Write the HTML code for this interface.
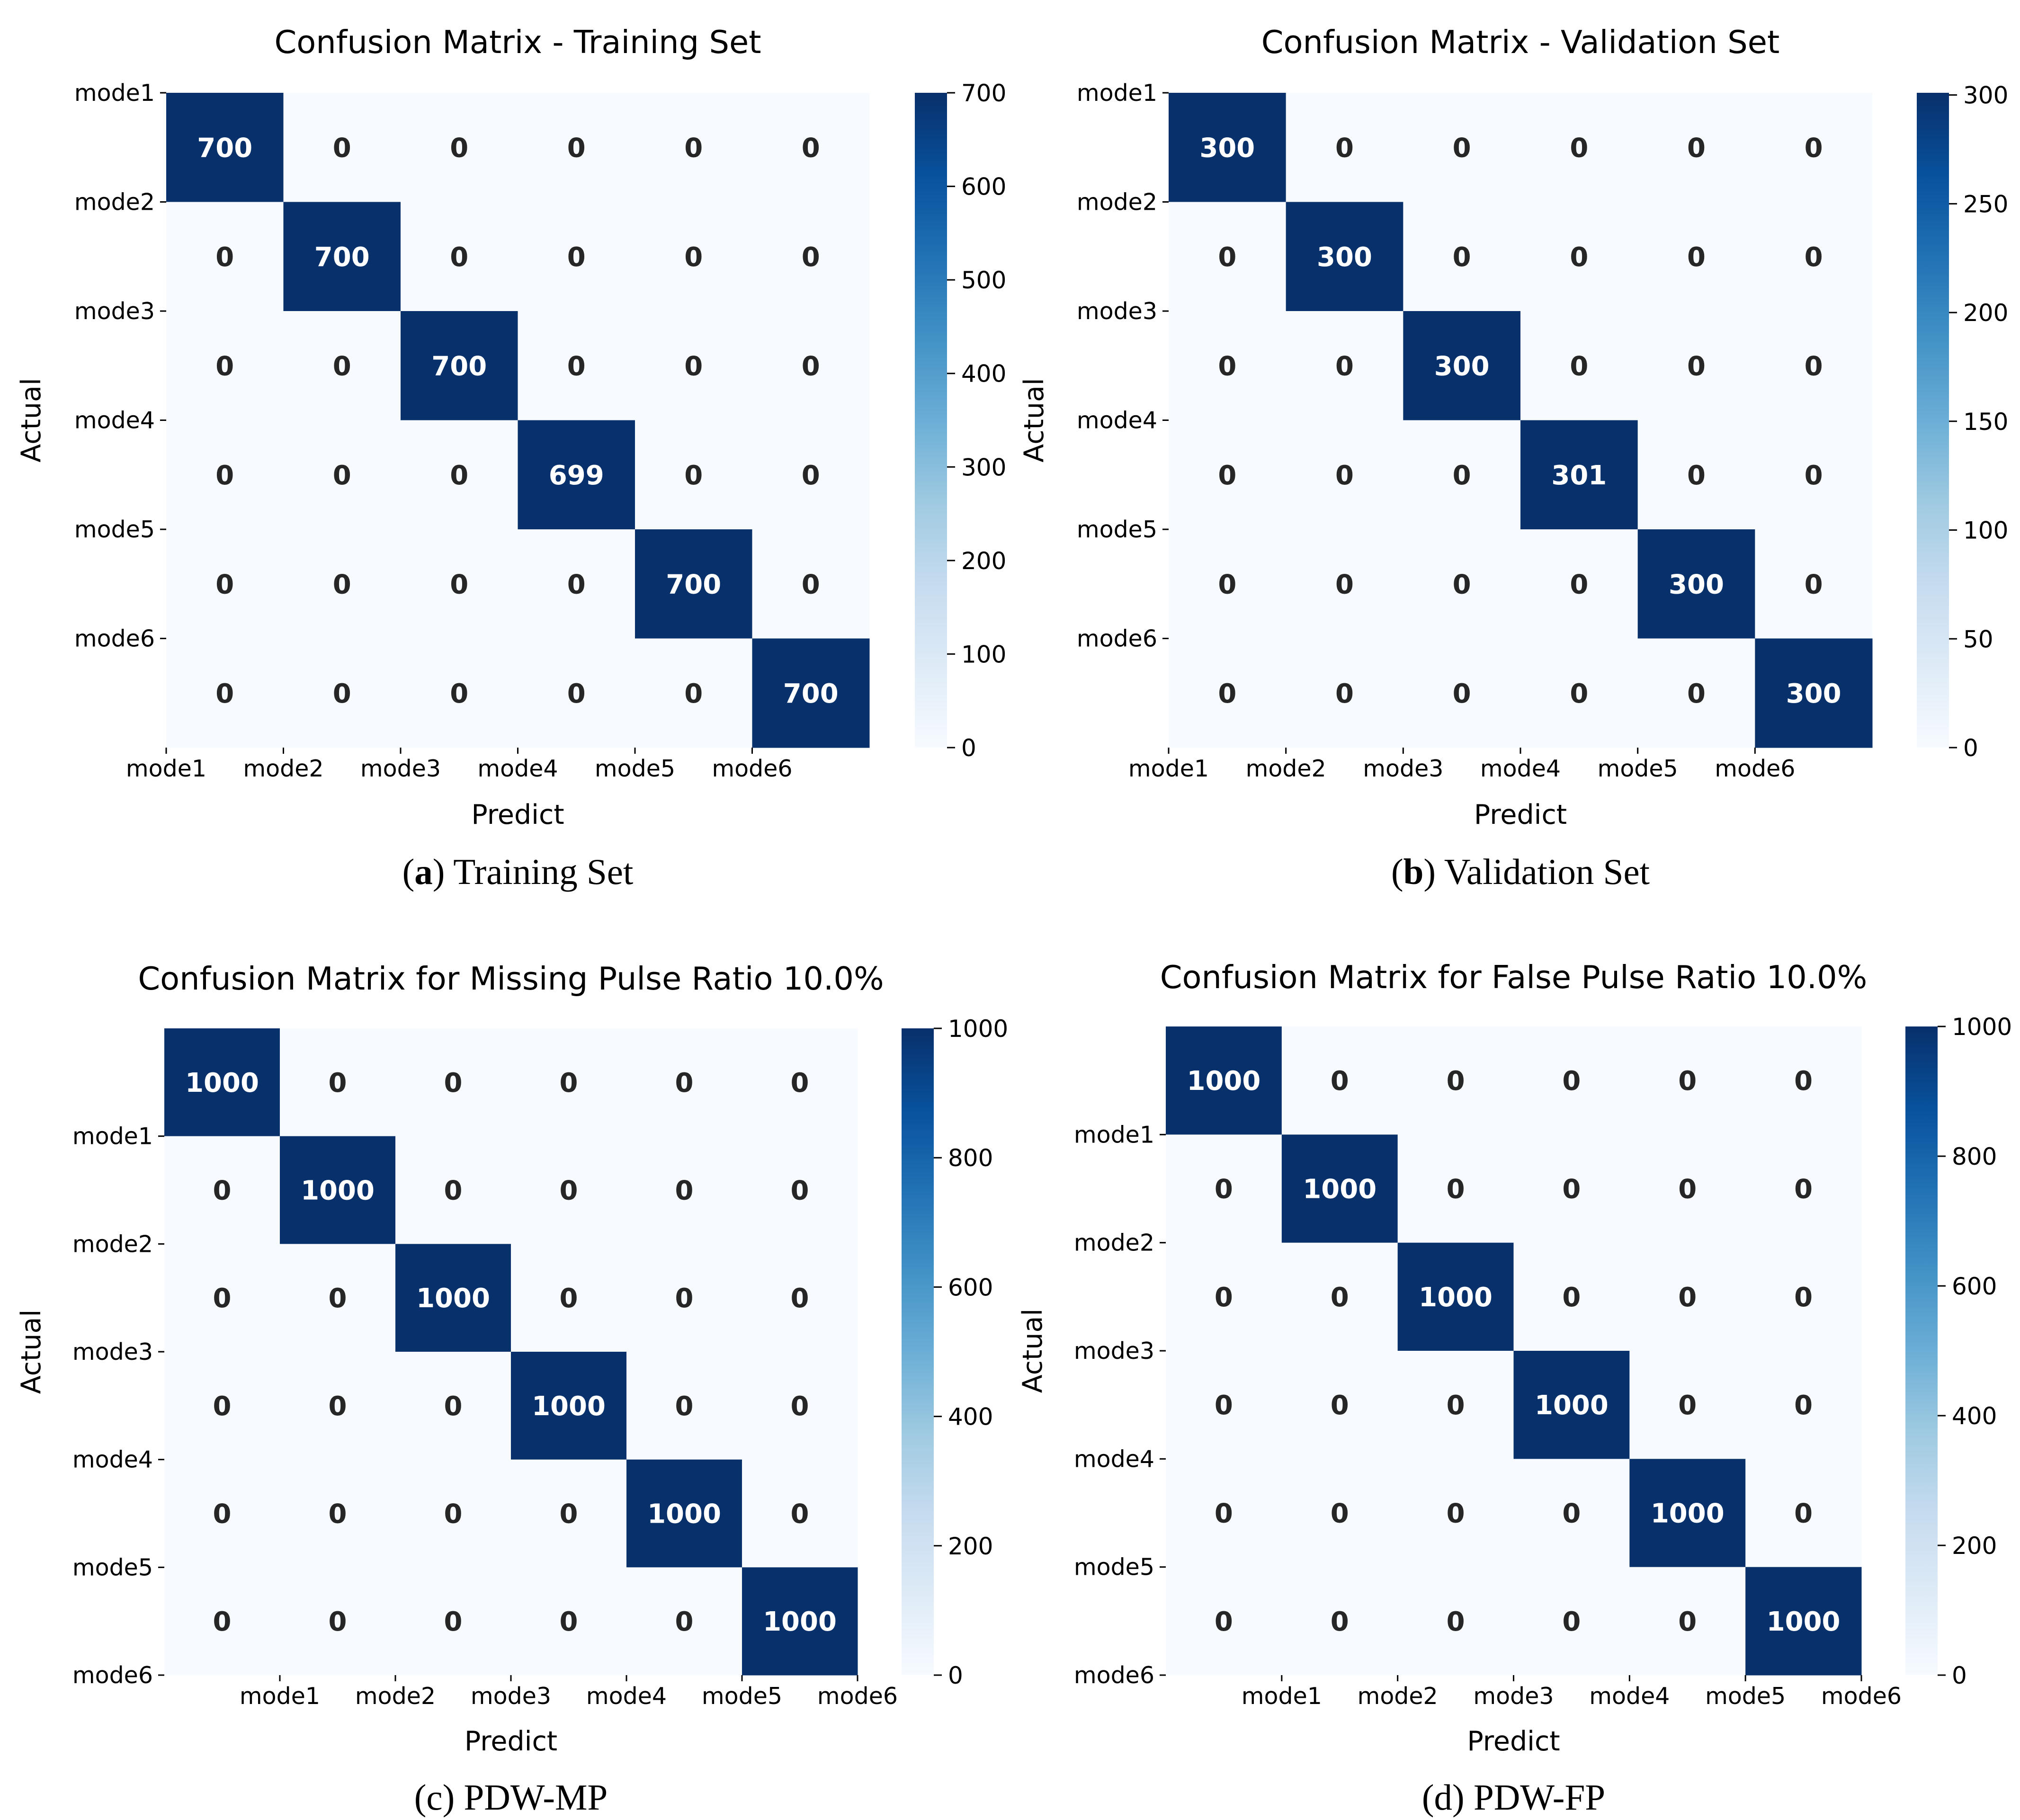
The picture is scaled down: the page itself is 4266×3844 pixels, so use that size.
<!DOCTYPE html>
<html><head><meta charset="utf-8"><style>
html,body{margin:0;padding:0;background:#fff;}
svg{display:block;}
</style></head><body>
<svg id="fig" width="4266" height="3844" xmlns="http://www.w3.org/2000/svg">
<defs>
<linearGradient id="blues" x1="0" y1="1" x2="0" y2="0">
<stop offset="0" stop-color="#f7fbff"/><stop offset="0.125" stop-color="#deebf7"/><stop offset="0.25" stop-color="#c6dbef"/><stop offset="0.375" stop-color="#9ecae1"/><stop offset="0.5" stop-color="#6baed6"/><stop offset="0.625" stop-color="#4292c6"/><stop offset="0.75" stop-color="#2171b5"/><stop offset="0.875" stop-color="#08519c"/><stop offset="1" stop-color="#08306b"/>
</linearGradient>
</defs>
</svg>
<script>
const labels = ["mode1","mode2","mode3","mode4","mode5","mode6"];
const trainValues = [[700,0,0,0,0,0],[0,700,0,0,0,0],[0,0,700,0,0,0],[0,0,0,699,0,0],[0,0,0,0,700,0],[0,0,0,0,0,700]];
const valValues = [[300,0,0,0,0,0],[0,300,0,0,0,0],[0,0,300,0,0,0],[0,0,0,301,0,0],[0,0,0,0,300,0],[0,0,0,0,0,300]];
const mpValues = [[1000,0,0,0,0,0],[0,1000,0,0,0,0],[0,0,1000,0,0,0],[0,0,0,1000,0,0],[0,0,0,0,1000,0],[0,0,0,0,0,1000]];
const fpValues = [[1000,0,0,0,0,0],[0,1000,0,0,0,0],[0,0,1000,0,0,0],[0,0,0,1000,0,0],[0,0,0,0,1000,0],[0,0,0,0,0,1000]];
const trainTicks = [0,100,200,300,400,500,600,700];
const valTicks = [0,50,100,150,200,250,300];
const mpTicks = [0,200,400,600,800,1000];
const fpTicks = [0,200,400,600,800,1000];
const titles = ["Confusion Matrix - Training Set","Confusion Matrix - Validation Set","Confusion Matrix for Missing Pulse Ratio 10.0%","Confusion Matrix for False Pulse Ratio 10.0%"];
const captionsB = ["a","b","c","d"];
const captionsT = [" Training Set"," Validation Set"," PDW-MP"," PDW-FP"];

const NS="http://www.w3.org/2000/svg";
const svg=document.getElementById('fig');
function mk(tag,attrs,parent){const e=document.createElementNS(NS,tag);for(const k in attrs)e.setAttribute(k,attrs[k]);(parent||svg).appendChild(e);return e;}
const stops=["#f7fbff","#deebf7","#c6dbef","#9ecae1","#6baed6","#4292c6","#2171b5","#08519c","#08306b"];
function hex(h){return [1,3,5].map(i=>parseInt(h.substr(i,2),16));}
function cmap(t){t=Math.max(0,Math.min(1,t));const p=t*8;const i=Math.min(7,Math.floor(p));const f=p-i;const a=hex(stops[i]),b=hex(stops[i+1]);return "rgb("+a.map((v,k)=>Math.round(v+(b[k]-v)*f)).join(",")+")";}
const FONT='"DejaVu Sans","Liberation Sans",sans-serif';

function panel(idx,vals,ticks,L,T,R,B,cbL,cbR,tickMode,titleY,predY,capY,actX){
  const g=mk('g',{});
  
  
  let vmin=Infinity,vmax=-Infinity;vals.forEach(r=>r.forEach(v=>{vmin=Math.min(vmin,v);vmax=Math.max(vmax,v);}));
  const n=labels.length,cw=(R-L)/n,ch=(B-T)/n;
  const xs=c=>L+c*cw, ys=r=>T+r*ch;
  for(let r=0;r<n;r++)for(let c=0;c<n;c++){
    const v=vals[r][c];const t=(v-vmin)/(vmax-vmin);
    const rc=mk('rect',{x:xs(c),y:ys(r),width:cw+0.5,height:ch+0.5,fill:cmap(t)},g);
    
    
    const tx=mk('text',{x:xs(c)+cw/2,y:ys(r)+ch/2+20,'text-anchor':'middle','font-family':FONT,'font-weight':'bold','font-size':56,fill:t>0.5?'#ffffff':'#262626'},g);
    tx.textContent=v;
    
    
  }
  for(let i=0;i<n;i++){
    const off=tickMode==='start'?0:1;
    const x=xs(i+off), y=ys(i+off);
    mk('line',{x1:x,y1:B,x2:x,y2:B+13,stroke:'#000','stroke-width':3},g);
    const xl=mk('text',{x:x,y:B+61,'text-anchor':'middle','font-family':FONT,'font-size':49,fill:'#000'},g);
    xl.textContent=labels[i];
    
    
    mk('line',{x1:L-13,y1:y,x2:L,y2:y,stroke:'#000','stroke-width':3},g);
    const yl=mk('text',{x:L-24,y:y+17,'text-anchor':'end','font-family':FONT,'font-size':49,fill:'#000'},g);
    yl.textContent=labels[i];
    
    
  }
  const cb=mk('rect',{x:cbL,y:T,width:cbR-cbL,height:B-T,fill:'url(#blues)'},g);
  
  
  const cy=v=>B-(v-vmin)/(vmax-vmin)*(B-T);
  ticks.forEach(v=>{
    const y=cy(v);
    mk('line',{x1:cbR,y1:y,x2:cbR+17,y2:y,stroke:'#000','stroke-width':3},g);
    const t=mk('text',{x:cbR+30,y:y+18,'font-family':FONT,'font-size':50,fill:'#000'},g);
    t.textContent=v;
    
    
  });
  const cx=(L+R)/2;
  const ti=mk('text',{x:cx,y:titleY,'text-anchor':'middle','font-family':FONT,'font-size':67,fill:'#000'},g);
  ti.textContent=titles[idx];
  
  
  const xt=mk('text',{x:cx,y:predY,'text-anchor':'middle','font-family':FONT,'font-size':57,fill:'#000'},g);
  xt.textContent='Predict';
  
  
  const at=mk('text',{x:actX,y:(T+B)/2,'text-anchor':'middle','font-family':FONT,'font-size':57,fill:'#000',transform:'rotate(-90 '+actX+' '+(T+B)/2+')'},g);
  at.textContent='Actual';
  
  
  const cap=mk('text',{x:cx,y:capY,'text-anchor':'middle','font-family':'"Liberation Serif",serif','font-size':77,fill:'#000'},g);
  
  
  const s1=mk('tspan',{},cap);s1.textContent='(';
  const s2=mk('tspan',{'font-weight':idx<2?'bold':'normal'},cap);s2.textContent=captionsB[idx];
  const s3=mk('tspan',{},cap);s3.textContent=')'+captionsT[idx];
}
panel(0,trainValues,trainTicks,351,196,1836,1579,1932,2000,'start',112,1740,1867,85);
panel(1,valValues,valTicks,2468,196,3954,1579,4048,4116,'start',112,1740,1867,2203);
panel(2,mpValues,mpTicks,347,2172,1811,3538,1904,1972,'end',2090,3697,3822,85);
panel(3,fpValues,fpTicks,2462,2168,3931,3538,4024,4092,'end',2087,3697,3822,2200);
</script>
</body></html>
